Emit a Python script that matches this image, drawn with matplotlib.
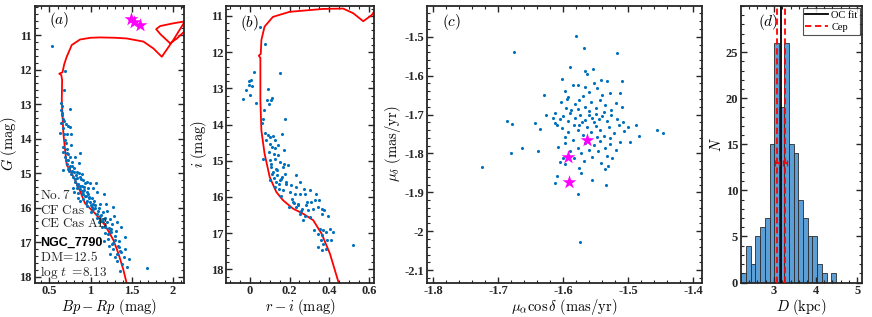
import matplotlib
matplotlib.use("Agg")
import matplotlib.pyplot as plt
import numpy as np
from matplotlib.ticker import FormatStrFormatter, AutoMinorLocator

plt.rcParams['font.family'] = 'serif'
plt.rcParams['font.serif'] = ['Liberation Serif', 'DejaVu Serif']
plt.rcParams['mathtext.fontset'] = 'cm'

# ---------------- data ----------------
# panel (a): Gaia CMD
cmd_a_x = [0.528, 0.69, 0.68, 0.638, 0.650, 0.642, 0.654, 0.662, 0.678, 0.751, 0.699, 0.731, 0.751,
           0.630, 0.678, 0.711, 0.759, 0.690, 0.670, 0.711, 0.751, 0.690, 0.731, 0.771, 0.812, 0.873,
           0.711, 0.751, 0.800, 0.865, 0.670, 0.731, 0.771, 0.832, 0.893, 0.759, 0.792, 0.832, 0.873,
           0.913, 0.954, 0.812, 0.853, 0.893, 0.934, 0.974, 0.832, 0.873, 0.913, 0.954, 0.893, 0.934,
           0.974, 1.015, 0.853, 0.913, 0.954, 0.994, 0.873, 1.043, 1.083, 1.165, 1.116, 0.962, 1.023,
           1.067, 0.994, 1.035, 1.035, 1.096, 1.156, 1.205, 1.116, 1.177, 1.237, 1.286, 1.136, 1.197,
           1.262, 1.318, 1.177, 1.246, 1.310, 1.367, 1.217, 1.302, 1.075, 1.104, 1.278, 1.189, 1.424,
           1.351, 1.164, 1.221, 1.278, 1.327, 1.367, 1.408, 1.318, 1.379, 1.440, 1.294, 1.237, 1.424,
           1.343, 1.262, 1.464, 1.359, 1.683, 0.80, 0.78, 0.82, 0.86, 0.84, 0.88, 0.90, 0.92, 0.95,
           0.98, 1.00, 1.03, 1.06, 1.10, 1.13, 1.15, 1.18, 1.22, 1.25, 0.72, 0.74, 0.76, 0.70, 0.66,
           0.645, 0.655, 0.668, 0.70, 0.725, 0.74, 0.785, 0.805, 0.815, 0.845, 0.87, 0.905, 0.925,
           0.945, 0.985, 1.01, 1.05, 1.08, 1.12, 1.14, 1.17, 1.21, 1.24, 1.27, 1.30, 1.33, 1.36]
cmd_a_y = [11.32, 12.03, 12.59, 12.98, 13.06, 13.17, 13.32, 13.42, 13.48, 13.15, 13.58, 13.64, 13.66,
           13.85, 13.87, 13.88, 13.87, 14.04, 14.38, 14.43, 14.53, 14.53, 14.62, 14.67, 14.53, 14.43,
           14.74, 14.79, 14.84, 14.70, 14.91, 14.88, 14.93, 14.98, 15.03, 15.03, 15.11, 15.15, 15.11,
           15.20, 15.25, 15.25, 15.32, 15.37, 15.30, 15.42, 15.42, 15.47, 15.51, 15.56, 15.61, 15.66,
           15.61, 15.71, 15.71, 15.75, 15.80, 15.85, 15.80, 15.80, 15.56, 15.61, 15.90, 15.95, 15.98,
           15.28, 15.30, 15.44, 16.05, 16.09, 16.14, 16.09, 16.24, 16.29, 16.33, 16.24, 16.38, 16.43,
           16.48, 16.43, 16.57, 16.62, 16.67, 16.57, 16.77, 16.82, 16.19, 16.43, 15.99, 15.90, 16.86,
           16.96, 16.96, 17.11, 17.20, 17.35, 17.30, 17.44, 17.54, 17.64, 17.73, 17.44, 17.35, 17.20,
           17.15, 17.06, 17.49, 17.83, 17.76, 14.98, 14.80, 15.06, 15.00, 15.35, 15.16, 15.52, 15.40, 15.66,
           15.70, 15.92, 15.90, 16.00, 16.02, 16.20, 16.34, 16.52, 16.60, 16.70, 14.30, 14.95, 14.20, 14.12, 13.70,
           13.55, 13.25, 14.25, 14.62, 14.45, 14.85, 15.42, 15.55, 15.18, 15.58, 15.36, 15.62, 15.50,
           15.86, 15.73, 16.12, 15.92, 16.30, 16.36, 16.55, 16.73, 16.90, 16.68, 17.02, 16.95, 17.10, 17.25]
iso_a_x = [1.47, 1.44, 1.40, 1.339, 1.278, 1.177, 1.056, 0.934, 0.852, 0.752, 0.711, 0.670, 0.651,
           0.655, 0.645, 0.620, 0.660, 0.680, 0.711, 0.772, 0.873, 1.00, 1.116, 1.30, 1.44, 1.643,
           1.764, 1.866, 2.007, 2.16, np.nan, 2.16, 2.007, 1.846, 1.797, 1.85, 1.967, 2.05, 2.16]
iso_a_y = [18.3, 18.2, 17.81, 17.33, 16.94, 16.51, 16.17, 15.88, 15.40, 14.91, 14.77, 13.85, 12.88,
           12.30, 12.16, 12.12, 12.08, 11.85, 11.63, 11.29, 11.13, 11.08, 11.07, 11.08, 11.10, 11.19,
           11.39, 11.63, 11.14, 10.55, np.nan, 10.60, 10.66, 10.74, 10.83, 10.98, 11.24, 11.10, 10.85]
star_a_x = [1.49, 1.53, 1.60]
star_a_y = [10.55, 10.62, 10.71]

# panel (b): r-i CMD
cmd_b_x = [0.049, 0.074, 0.019, 0.150, -0.005, 0.007, -0.002, 0.012, -0.019, 0.002, -0.032, 0.032,
           0.091, 0.086, 0.108, 0.113, 0.096, 0.069, 0.066, 0.062, 0.175, 0.163, 0.074, 0.091, 0.100,
           0.116, 0.128, 0.140, 0.172, 0.083, 0.099, 0.113, 0.096, 0.120, 0.142, 0.066, 0.099, 0.125,
           0.150, 0.170, 0.192, 0.108, 0.133, 0.167, 0.113, 0.138, 0.164, 0.175, 0.103, 0.130, 0.150,
           0.184, 0.209, 0.234, 0.251, 0.234, 0.125, 0.147, 0.167, 0.201, 0.159, 0.226, 0.251, 0.276,
           0.302, 0.271, 0.197, 0.217, 0.243, 0.265, 0.285, 0.310, 0.327, 0.293, 0.318, 0.344, 0.361,
           0.374, 0.349, 0.335, 0.361, 0.251, 0.276, 0.302, 0.268, 0.221, 0.234, 0.322, 0.394, 0.352,
           0.369, 0.383, 0.361, 0.344, 0.420, 0.403, 0.356, 0.369, 0.344, 0.389, 0.386, 0.411, 0.361,
           0.521, 0.118, 0.123, 0.105, 0.138, 0.155, 0.180, 0.145, 0.128, 0.210, 0.240, 0.258, 0.290]
cmd_b_y = [11.32, 11.79, 12.55, 12.57, 12.80, 12.78, 12.92, 12.94, 13.05, 13.19, 13.30, 13.40,
           13.01, 13.31, 13.31, 13.27, 13.42, 13.59, 13.84, 13.96, 13.86, 14.27, 14.23, 14.30, 14.34,
           14.32, 14.43, 14.57, 14.69, 14.43, 14.53, 14.62, 14.76, 14.80, 14.85, 14.94, 14.99, 14.94,
           15.03, 15.08, 15.13, 15.17, 15.22, 15.17, 15.36, 15.40, 15.45, 15.36, 15.54, 15.59, 15.54,
           15.63, 15.68, 15.72, 15.59, 15.40, 15.72, 15.77, 15.82, 15.86, 15.98, 15.91, 15.91, 15.91,
           15.82, 15.77, 16.28, 16.14, 16.23, 16.32, 16.23, 16.14, 16.09, 16.37, 16.32, 16.28, 16.32,
           16.37, 16.09, 15.91, 16.46, 16.46, 16.53, 16.55, 16.64, 16.17, 16.28, 16.92, 16.53, 16.87,
           16.92, 16.97, 17.06, 17.01, 16.97, 16.87, 17.20, 17.29, 17.38, 17.20, 17.43, 17.20, 17.47,
           17.32, 15.30, 15.48, 15.10, 15.25, 15.50, 15.60, 15.65, 14.65, 16.05, 16.18, 16.40, 16.15]
iso_b_x = [0.455, 0.448, 0.403, 0.361, 0.319, 0.268, 0.217, 0.167, 0.133, 0.100, 0.074, 0.058, 0.053,
           0.053, 0.053, 0.045, 0.055, 0.058, 0.074, 0.116, 0.200, 0.369, 0.470, 0.521, 0.571, 0.614, 0.64]
iso_b_y = [18.5, 18.38, 17.56, 17.01, 16.64, 16.46, 16.32, 16.09, 15.86, 15.45, 14.80, 14.16, 13.33,
           12.41, 12.16, 12.10, 12.05, 11.67, 11.30, 11.03, 10.89, 10.81, 10.80, 10.93, 11.15, 10.98, 10.76]

# panel (c): proper motions
pm_ra = [-1.580, -1.676, -1.568, -1.589, -1.602, -1.567, -1.563, -1.554, -1.518, -1.630, -1.577, -1.542,
         -1.532, -1.510, -1.513, -1.687, -1.679, -1.663, -1.681, -1.643, -1.635, -1.639, -1.725, -1.626,
         -1.612, -1.615, -1.610, -1.608, -1.601, -1.605, -1.598, -1.613, -1.610, -1.573, -1.578, -1.555,
         -1.534, -1.535, -1.531, -1.533, -1.574, -1.500, -1.488, -1.483, -1.497, -1.455, -1.447,
         -1.597, -1.585, -1.570, -1.560, -1.548, -1.540, -1.528, -1.552, -1.566, -1.592,
         -1.603, -1.594, -1.582, -1.575, -1.567, -1.558, -1.549, -1.543, -1.535, -1.527, -1.519, -1.510,
         -1.588, -1.560, -1.596, -1.577,
         -1.600, -1.590, -1.582, -1.574, -1.566, -1.561, -1.555, -1.550, -1.545, -1.540, -1.533, -1.526,
         -1.518, -1.508, -1.593, -1.571, -1.552, -1.537, -1.605, -1.612,
         -1.602, -1.592, -1.584, -1.578, -1.570, -1.563, -1.557, -1.550, -1.544, -1.538, -1.530, -1.522,
         -1.514, -1.506, -1.597, -1.575, -1.548, -1.528,
         -1.598, -1.585, -1.577, -1.567, -1.560, -1.552, -1.543, -1.536, -1.528, -1.519, -1.512, -1.590,
         -1.546, -1.573, -1.583, -1.568, -1.556, -1.542, -1.525, -1.575]
pm_dec = [-1.498, -1.540, -1.530, -1.577, -1.609, -1.588, -1.596, -1.584, -1.543, -1.650, -1.624, -1.611,
          -1.613, -1.613, -1.644, -1.716, -1.725, -1.786, -1.800, -1.723, -1.736, -1.793, -1.836, -1.702,
          -1.697, -1.710, -1.727, -1.783, -1.813, -1.823, -1.826, -1.877, -1.858, -1.851, -1.905, -1.869,
          -1.881, -1.839, -1.833, -1.807, -2.029, -1.731, -1.726, -1.755, -1.770, -1.740, -1.748,
          -1.640, -1.625, -1.652, -1.641, -1.632, -1.649, -1.645, -1.618, -1.628, -1.655,
          -1.668, -1.661, -1.672, -1.663, -1.680, -1.667, -1.684, -1.662, -1.675, -1.688, -1.670, -1.680,
          -1.688, -1.690, -1.683, -1.686,
          -1.703, -1.697, -1.710, -1.700, -1.713, -1.702, -1.708, -1.698, -1.712, -1.703, -1.716, -1.700,
          -1.712, -1.718, -1.716, -1.718, -1.719, -1.694, -1.712, -1.722,
          -1.734, -1.745, -1.728, -1.740, -1.752, -1.733, -1.745, -1.729, -1.740, -1.755, -1.733, -1.748,
          -1.728, -1.742, -1.757, -1.726, -1.758, -1.760,
          -1.772, -1.766, -1.785, -1.772, -1.790, -1.778, -1.768, -1.785, -1.775, -1.792, -1.770, -1.795,
          -1.795, -1.800, -1.812, -1.820, -1.808, -1.825, -1.812, -1.838]
star_c_x = [-1.563, -1.592, -1.591]
star_c_y = [-1.766, -1.809, -1.873]

# panel (d): distance histogram
hist_edges = [2.21, 2.33, 2.44, 2.55, 2.67, 2.78, 2.90, 3.01, 3.13, 3.24, 3.35, 3.47, 3.58, 3.70,
              3.81, 3.92, 4.04, 4.15, 4.27, 4.38, 4.49]
hist_counts = [1, 4, 2, 5, 6, 7, 15, 26, 19, 26, 15, 14, 9, 7, 5, 5, 2, 1, 0, 1]
d_oc = 3.16
d_cep = [3.07, 3.26]
d_cep_err = [0.05, 0.05]
d_cep_ypos = 13

# ---------------- figure ----------------
fig = plt.figure(figsize=(8.72, 3.17), dpi=100)
ax_a = fig.add_axes([0.0396, 0.1088, 0.1709, 0.8722])
ax_b = fig.add_axes([0.2592, 0.1088, 0.1701, 0.8722])
ax_c = fig.add_axes([0.4893, 0.1088, 0.3154, 0.8722])
ax_d = fig.add_axes([0.8498, 0.1088, 0.1391, 0.8722])

blue = '#0072BD'
magenta = '#ff00ff'
lab_fs = 10.5


def style(ax):
    for s in ax.spines.values():
        s.set_linewidth(1.3)
        s.set_color('#262626')
    ax.tick_params(which='both', direction='in', top=True, right=True, colors='#262626',
                   labelsize=9, pad=2)
    ax.tick_params(which='major', length=4, width=1)
    ax.tick_params(which='minor', length=2, width=0.8)
    ax.xaxis.set_minor_locator(AutoMinorLocator())
    ax.yaxis.set_minor_locator(AutoMinorLocator())
    for lab in ax.get_xticklabels() + ax.get_yticklabels():
        lab.set_fontweight('bold')


# (a)
ax_a.plot(iso_a_x, iso_a_y, color='red', lw=1.3, zorder=2)
ax_a.scatter(cmd_a_x, cmd_a_y, s=5, color=blue, zorder=3, linewidths=0)
ax_a.scatter(star_a_x, star_a_y, s=110, marker='*', color=magenta, zorder=4, linewidths=0)
ax_a.set_xlim(0.32, 2.13)
ax_a.set_ylim(18.17, 10.16)
ax_a.set_xticks([0.5, 1, 1.5, 2])
ax_a.set_yticks([11, 12, 13, 14, 15, 16, 17, 18])
ax_a.xaxis.set_major_formatter(FormatStrFormatter('%g'))
ax_a.set_xlabel(r'$Bp-Rp\ (\mathrm{mag})$', fontsize=lab_fs, labelpad=0)
ax_a.set_ylabel(r'$G\ (\mathrm{mag})$', fontsize=lab_fs, labelpad=0)
ax_a.text(0.10, 0.95, r'$(a)$', transform=ax_a.transAxes, fontsize=11, va='center')
info = [(0.316, r'$\mathrm{No.7}$'), (0.262, r'$\mathrm{CF\ Cas}$'), (0.212, r'$\mathrm{CE\ Cas\ AB}$'),
        (0.092, r'$\mathrm{DM\!=\!12.5}$'), (0.038, r'$\log\,t\ \mathrm{=\!8.13}$')]
for yy, txt in info:
    ax_a.text(0.037, yy, txt, transform=ax_a.transAxes, fontsize=9.5, va='center', color='#262626')
ax_a.text(0.037, 0.145, 'NGC_7790', transform=ax_a.transAxes, fontsize=9, va='center',
          fontweight='bold', family=['Liberation Sans', 'DejaVu Sans'])
style(ax_a)

# (b)
ax_b.plot(iso_b_x, iso_b_y, color='red', lw=1.3, zorder=2)
ax_b.scatter(cmd_b_x, cmd_b_y, s=5, color=blue, zorder=3, linewidths=0)
ax_b.set_xlim(-0.12, 0.627)
ax_b.set_ylim(18.36, 10.73)
ax_b.set_xticks([0, 0.2, 0.4, 0.6])
ax_b.set_yticks([11, 12, 13, 14, 15, 16, 17, 18])
ax_b.xaxis.set_major_formatter(FormatStrFormatter('%g'))
ax_b.set_xlabel(r'$r-i\ (\mathrm{mag})$', fontsize=lab_fs, labelpad=0)
ax_b.set_ylabel(r'$i\ (\mathrm{mag})$', fontsize=lab_fs, labelpad=1)
ax_b.text(0.094, 0.94, r'$(b)$', transform=ax_b.transAxes, fontsize=11, va='center')
style(ax_b)

# (c)
ax_c.scatter(pm_ra, pm_dec, s=5, color=blue, zorder=3, linewidths=0)
ax_c.scatter(star_c_x, star_c_y, s=110, marker='*', color=magenta, zorder=4, linewidths=0)
ax_c.set_xlim(-1.81, -1.387)
ax_c.set_ylim(-2.132, -1.421)
ax_c.set_xticks([-1.8, -1.7, -1.6, -1.5, -1.4])
ax_c.set_yticks([-2.1, -2, -1.9, -1.8, -1.7, -1.6, -1.5])
ax_c.xaxis.set_major_formatter(FormatStrFormatter('%g'))
ax_c.yaxis.set_major_formatter(FormatStrFormatter('%g'))
ax_c.set_xlabel(r'$\mu_\alpha\cos\delta\ (\mathrm{mas/yr})$', fontsize=lab_fs, labelpad=0)
ax_c.set_ylabel(r'$\mu_\delta\ (\mathrm{mas/yr})$', fontsize=lab_fs, labelpad=1)
ax_c.text(0.055, 0.943, r'$(c)$', transform=ax_c.transAxes, fontsize=11, va='center')
style(ax_c)

# (d)
ax_d.bar(hist_edges[:-1], hist_counts, width=np.diff(hist_edges), align='edge',
         color='#5b9fd6', edgecolor='#2b2b2b', linewidth=0.6, zorder=1)
ax_d.axvline(d_oc, color='black', lw=1.3, label='OC fit', zorder=3)
for i, dc in enumerate(d_cep):
    ax_d.axvline(dc, color='red', lw=1.3, ls=(0, (3.5, 2)), zorder=4,
                 label='Cep' if i == 0 else None)
ax_d.errorbar(d_cep, [d_cep_ypos] * len(d_cep), xerr=d_cep_err, fmt='none', ecolor='red',
              elinewidth=1.2, capsize=2, zorder=5)
ax_d.set_xlim(2.21, 5.12)
ax_d.set_ylim(0, 30)
ax_d.set_xticks([3, 4, 5])
ax_d.set_yticks([0, 5, 10, 15, 20, 25])
ax_d.set_xlabel(r'$D\ (\mathrm{kpc})$', fontsize=lab_fs, labelpad=0)
ax_d.set_ylabel(r'$N$', fontsize=lab_fs, labelpad=1)
ax_d.text(0.138, 0.943, r'$(d)$', transform=ax_d.transAxes, fontsize=11, va='center')
leg = ax_d.legend(loc='upper right', fontsize=7.5, frameon=True, fancybox=False,
                  handlelength=2.2, borderpad=0.25, labelspacing=0.25, handletextpad=0.3,
                  borderaxespad=0.2)
leg.get_frame().set_edgecolor('#262626')
leg.get_frame().set_linewidth(0.8)
style(ax_d)

fig.savefig('out.png', dpi=100)
